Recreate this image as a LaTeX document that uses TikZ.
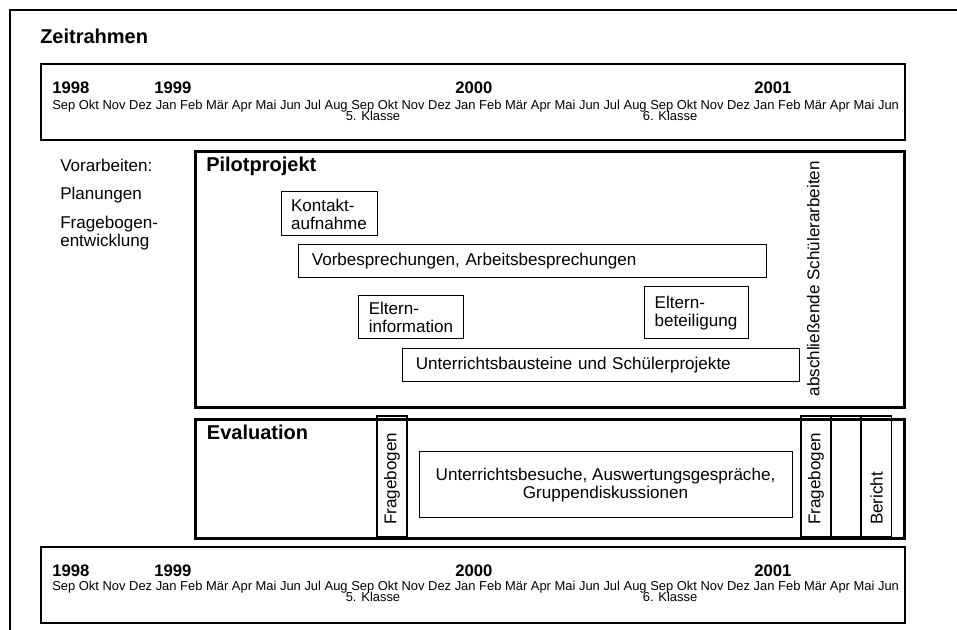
\documentclass[tikz,border=0pt]{standalone}
\usepackage{fontspec}
\setmainfont{Liberation Sans}
\usepackage{tikz}

\newcommand{\monate}{Sep Okt Nov Dez Jan Feb Mär Apr Mai Jun Jul Aug Sep Okt Nov Dez Jan Feb Mär Apr Mai Jun Jul Aug Sep Okt Nov Dez Jan Feb Mär Apr Mai Jun}

\begin{document}
\begin{tikzpicture}[
        x=0.75pt, y=-0.75pt,
        font=\fontsize{12.8}{13.5}\selectfont,
        titel/.style={
            font=\fontsize{15}{18}\selectfont\bfseries,
            inner sep=0,
            anchor=base west
        },
        jahr/.style={
            font=\fontsize{12.5}{14}\selectfont\bfseries,
            inner sep=0,
            anchor=base west
        },
        monat/.style={
            font=\fontsize{9.7}{11}\selectfont,
            inner sep=0,
            anchor=base west
        },
        klasse/.style={
            font=\fontsize{9.7}{11}\selectfont,
            inner sep=0,
            anchor=base
        },
        leiste/.style={
            draw,
            line width=1.2pt,
            anchor=north west,
            inner sep=0,
            minimum width=648pt,
            minimum height=57pt
        },
        rahmen/.style={
            draw,
            line width=2pt,
            anchor=north west,
            inner sep=0,
            minimum width=532pt
        },
        kasten/.style={
            draw,
            line width=0.75pt,
            align=left,
            inner xsep=7.5pt
        },
        zeile/.style={
            draw,
            line width=0.75pt,
            anchor=north west,
            align=left,
            inner xsep=10pt,
            minimum height=24.75pt
        },
        spalte/.style={
            draw,
            line width=0.9pt,
            rotate=90,
            align=left,
            inner xsep=9pt,
            inner ysep=0,
            text width=72.75pt,
            minimum height=22.5pt
        },
        notiz/.style={inner sep=0, anchor=base west}
    ]

    \useasboundingbox (0,0) rectangle (957,630);

    % Rahmen
    \draw[line width=1.5pt] (957,10) -- (10,10) -- (10,630);
    \node[titel] (zeitrahmen) at (40,43.3) {Zeitrahmen};

    % Zeitleiste oben
    \node[leiste] (leiste_oben) at (40,63.5) {};
    \node[jahr] (j1998_oben) at (52,94) {1998};
    \node[jahr] (j1999_oben) at (154,94) {1999};
    \node[jahr] (j2000_oben) at (455,94) {2000};
    \node[jahr] (j2001_oben) at (754,94) {2001};
    \node[monat] (monate_oben) at (52,110) {\monate};
    \node[klasse] (k5_oben) at (373,121) {5. Klasse};
    \node[klasse] (k6_oben) at (670,121) {6. Klasse};

    % Vorarbeiten
    \node[notiz] (vorarbeiten) at (60,171.7) {Vorarbeiten:};
    \node[notiz] (planungen) at (60,199.3) {Planungen};
    \node[notiz, align=left, anchor=north west] (fragebogen_entw) at (60,216) {Fragebogen-\\entwicklung};

    % Pilotprojekt
    \node[rahmen, minimum height=192pt] (pilot) at (194,150) {};
    \node[titel] (pilot_titel) at (206,172) {Pilotprojekt};
    \node[kasten, minimum width=72pt, minimum height=33pt] (kontakt) at (329,214) {Kontakt-\\aufnahme};
    \node[zeile, text width=331pt] (besprechungen) at (298,244) {Vorbesprechungen, Arbeitsbesprechungen};
    \node[kasten, minimum width=78pt, minimum height=32.25pt] (elterninfo) at (411,317.5) {Eltern-\\information};
    \node[kasten, minimum width=78pt, minimum height=39pt] (elternbet) at (696,313) {Eltern-\\beteiligung};
    \node[zeile, text width=277.75pt] (bausteine) at (402,348) {Unterrichtsbausteine und Schülerprojekte};
    \node[rotate=90, inner sep=0] (schuelerarb) at (813.3,278.7) {abschließende Schülerarbeiten};

    % Evaluation
    \node[rahmen, minimum height=89.25pt] (evaluation) at (194,418) {};
    \node[titel] (eval_titel) at (206.7,440) {Evaluation};
    \node[spalte] (fragebogen_vor) at (392,476.5) {Fragebogen};
    \node[kasten, align=center, minimum width=279.75pt, minimum height=49.5pt] (besuche) at (605.5,485) {Unterrichtsbesuche, Auswertungsgespräche,\\Gruppendiskussionen};
    \node[spalte] (fragebogen_nach) at (816,476.5) {Fragebogen};
    \node[spalte] (leer) at (846,476.5) {};
    \node[spalte] (bericht) at (876.5,476.5) {Bericht};

    % Zeitleiste unten
    \node[leiste] (leiste_unten) at (40,546) {};
    \node[jahr] (j1998_unten) at (52,576.5) {1998};
    \node[jahr] (j1999_unten) at (154,576.5) {1999};
    \node[jahr] (j2000_unten) at (455,576.5) {2000};
    \node[jahr] (j2001_unten) at (754,576.5) {2001};
    \node[monat] (monate_unten) at (52,590.5) {\monate};
    \node[klasse] (k5_unten) at (373,601.5) {5. Klasse};
    \node[klasse] (k6_unten) at (670,601.5) {6. Klasse};

\end{tikzpicture}
\end{document}
